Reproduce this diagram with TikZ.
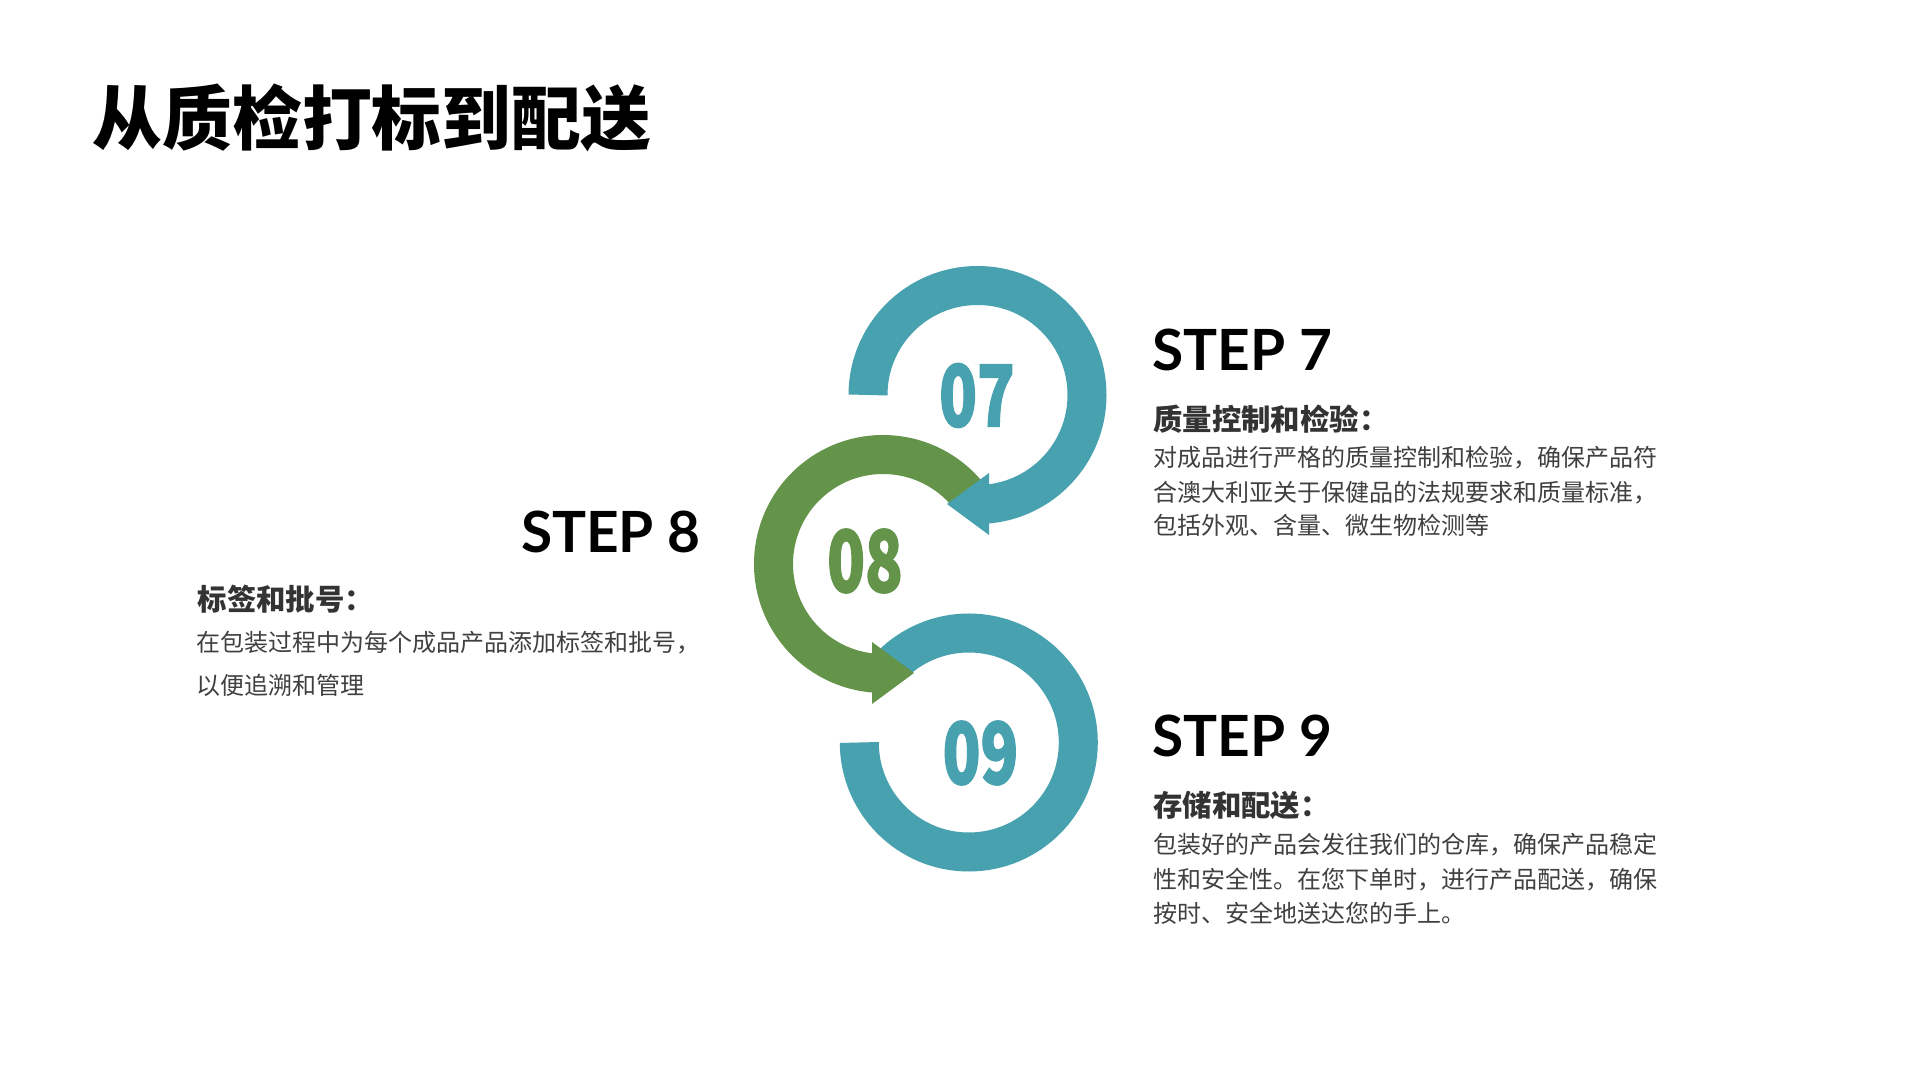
\documentclass[tikz,border=0pt]{standalone}
\usepackage{fontspec}
\setmainfont{Noto Sans CJK SC}
\newfontfamily\stepfont{Lato}
\newfontfamily\numfont{Noto Sans CJK SC}[BoldFeatures={FakeBold=2}]
\definecolor{tealc}{HTML}{48A1AF}
\definecolor{greenc}{HTML}{64944A}
\definecolor{headc}{HTML}{333333}
\definecolor{bodyc}{HTML}{404040}
\tikzset{
  ringline/.style={line width=39pt},
  numtxt/.style={inner sep=0pt, font=\numfont\bfseries\fontsize{85}{85}\selectfont},
  steptxt/.style={inner sep=0pt, font=\stepfont\bfseries\fontsize{56.8}{56.8}\selectfont, text=black},
  headtxt/.style={inner sep=0pt, anchor=west, font=\bfseries\fontsize{29.4}{29.4}\selectfont, text=headc},
  bodytxt/.style={inner sep=0pt, anchor=west, font=\fontsize{24}{24}\selectfont, text=bodyc},
  titletxt/.style={inner sep=0pt, anchor=west, font=\bfseries\fontsize{69.8}{69.8}\selectfont, text=black}
}
\begin{document}
\begin{tikzpicture}[x=1pt,y=1pt]
\useasboundingbox (0,0) rectangle (1920,1080);
\fill[white] (0,0) rectangle (1920,1080);

% centres
\coordinate (C7) at (977.5,685);
\coordinate (C8) at (883,516);
\coordinate (C9) at (968.8,337.5);

% ring 09
\draw[ringline, tealc] (C9) ++(180:109.5) arc[start angle=180, end angle=495, radius=109.5];
% ring 08 with arrow
\draw[ringline, greenc] (C8) ++(40:109.5) arc[start angle=40, end angle=266, radius=109.5];
\coordinate (g1) at (872,438);
\coordinate (g2) at (914,407);
\coordinate (g3) at (872,376);
\fill[greenc] (g1) -- (g2) -- (g3) -- cycle;
% ring 07 with arrow
\draw[ringline, tealc] (C7) ++(180:109.5) arc[start angle=180, end angle=-86, radius=109.5];
\coordinate (t1) at (989,607);
\coordinate (t2) at (947,576);
\coordinate (t3) at (989,545);
\fill[tealc] (t1) -- (t2) -- (t3) -- cycle;

% numbers
\node[numtxt, text=tealc] (n07) at (977,684.5) {\scalebox{0.73}[1]{07}};
\node[numtxt, text=greenc] (n08) at (865,519) {\scalebox{0.73}[1]{08}};
\node[numtxt, text=tealc] (n09) at (980.5,327) {\scalebox{0.73}[1]{09}};

% title
\node[titletxt] (title) at (92.5,962) {从质检打标到配送};

% step 7
\node[steptxt, anchor=west] (s7) at (1152.5,729.7) {STEP 7};
\node[headtxt] (h7) at (1153,660.5) {质量控制和检验：};
\node[bodytxt] (b7a) at (1153.5,622.5) {对成品进行严格的质量控制和检验，确保产品符};
\node[bodytxt] (b7b) at (1153.5,587.8) {合澳大利亚关于保健品的法规要求和质量标准，};
\node[bodytxt] (b7c) at (1153.5,554.2) {包括外观、含量、微生物检测等};

% step 8
\node[steptxt, anchor=east] (s8) at (701,548.3) {STEP 8};
\node[headtxt] (h8) at (197.5,481.3) {标签和批号：};
\node[bodytxt] (b8a) at (196.5,437.5) {在包装过程中为每个成品产品添加标签和批号，};
\node[bodytxt] (b8b) at (196.5,394.5) {以便追溯和管理};

% step 9
\node[steptxt, anchor=west] (s9) at (1152.5,344.2) {STEP 9};
\node[headtxt] (h9) at (1153,274.2) {存储和配送：};
\node[bodytxt] (b9a) at (1153.5,235.5) {包装好的产品会发往我们的仓库，确保产品稳定};
\node[bodytxt] (b9b) at (1153.5,200.8) {性和安全性。在您下单时，进行产品配送，确保};
\node[bodytxt] (b9c) at (1153.5,167) {按时、安全地送达您的手上。};
\end{tikzpicture}
\end{document}
